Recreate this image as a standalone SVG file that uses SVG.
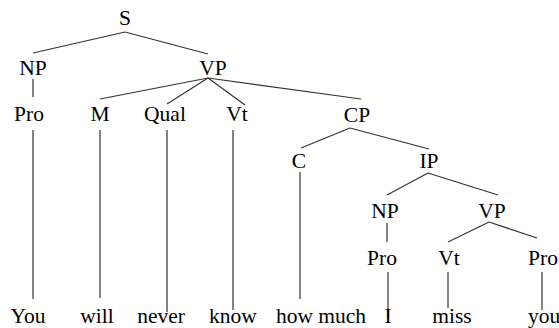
<svg xmlns="http://www.w3.org/2000/svg" width="559" height="328" viewBox="0 0 559 328">
<style>
text{font-family:"Liberation Serif","Times New Roman",serif;font-size:21.5px;fill:#000;text-anchor:middle}
line{stroke:#333;stroke-width:1.2}
</style>
<rect width="559" height="328" fill="#fff"/>
<g id="connectors">
<line x1="125" y1="32" x2="33" y2="53"/>
<line x1="125" y1="32" x2="208" y2="54"/>
<line x1="33" y1="79" x2="33" y2="97"/>
<line x1="208" y1="78" x2="100" y2="99"/>
<line x1="208" y1="78" x2="167" y2="104"/>
<line x1="208" y1="78" x2="245" y2="105"/>
<line x1="208" y1="78" x2="361" y2="99"/>
<line x1="33" y1="130" x2="33" y2="299"/>
<line x1="100" y1="130" x2="100" y2="298"/>
<line x1="167" y1="130" x2="167" y2="312"/>
<line x1="233" y1="130" x2="233" y2="310"/>
<line x1="350" y1="128" x2="301" y2="148"/>
<line x1="350" y1="128" x2="429" y2="149"/>
<line x1="300" y1="172" x2="300" y2="299"/>
<line x1="428" y1="173" x2="387" y2="195"/>
<line x1="428" y1="173" x2="498" y2="195"/>
<line x1="387" y1="223" x2="387" y2="242"/>
<line x1="489" y1="222" x2="448" y2="242"/>
<line x1="489" y1="222" x2="537" y2="238"/>
<line x1="388" y1="272" x2="388" y2="318"/>
<line x1="448" y1="272" x2="448" y2="308"/>
<line x1="542" y1="272" x2="542" y2="310"/>
</g>
<g id="S"><text x="125" y="25">S</text></g>
<g id="NP1"><text x="33" y="75">NP</text></g>
<g id="VP1"><text x="213" y="75">VP</text></g>
<g id="Pro1"><text x="29" y="121">Pro</text></g>
<g id="M"><text x="100" y="121">M</text></g>
<g id="Qual"><text x="165" y="121">Qual</text></g>
<g id="Vt1"><text x="237" y="121">Vt</text></g>
<g id="CP"><text x="357" y="122">CP</text></g>
<g id="C"><text x="299" y="168">C</text></g>
<g id="IP"><text x="429" y="168">IP</text></g>
<g id="NP2"><text x="385" y="218">NP</text></g>
<g id="VP2"><text x="492" y="218">VP</text></g>
<g id="Pro2"><text x="382" y="265">Pro</text></g>
<g id="Vt2"><text x="449" y="265">Vt</text></g>
<g id="Pro3"><text x="543" y="265">Pro</text></g>
<g id="w-you"><text x="28" y="323">You</text></g>
<g id="w-will"><text x="97" y="323">will</text></g>
<g id="w-never"><text x="161" y="323">never</text></g>
<g id="w-know"><text x="233" y="323">know</text></g>
<g id="w-howmuch"><text x="321" y="323">how much</text></g>
<g id="w-I"><text x="388" y="323">I</text></g>
<g id="w-miss"><text x="452" y="323">miss</text></g>
<g id="w-you2"><text x="528" y="323" style="text-anchor:start">you</text></g>
</svg>
